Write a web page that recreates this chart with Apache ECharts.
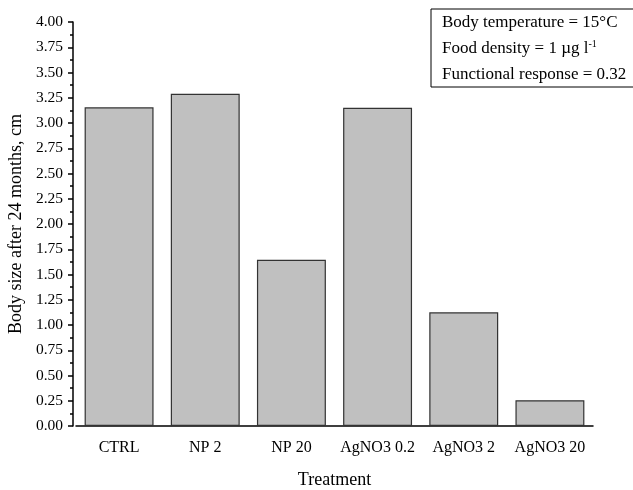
<!DOCTYPE html>
<html>
<head>
<meta charset="utf-8">
<script src="https://cdn.jsdelivr.net/npm/echarts@6/dist/echarts.min.js"></script>
<style>
    html, body { margin: 0; padding: 0; background: #fff; }
    #chart { width: 633px; height: 490px; }
</style>
</head>
<body>
<div id="chart"></div>
<script>
// data
const treatments = ['CTRL', 'NP 2', 'NP 20', 'AgNO3 0.2', 'AgNO3 2', 'AgNO3 20'];
const bodySize = [3.155, 3.29, 1.645, 3.15, 1.125, 0.255];
const infoLines = ['Body temperature = 15\u00b0C', 'Food density = 1 \u00b5g l{sup|-1}', 'Functional response = 0.32'];

const serif = 'Liberation Serif';
const chart = echarts.init(document.getElementById('chart'));

const option = {
    animation: false,
    textStyle: { fontFamily: serif, color: '#000' },
    grid: { left: 76, right: 40, top: 22, bottom: 64, outerBoundsMode: 'none', containLabel: false },
    xAxis: {
        type: 'category',
        data: treatments,
        name: 'Treatment',
        nameLocation: 'middle',
        nameGap: 45,
        nameTextStyle: { fontFamily: serif, fontSize: 18, color: '#000' },
        axisLine: { lineStyle: { color: '#000', width: 1.5 } },
        axisTick: { alignWithLabel: true, interval: 0, length: 7, lineStyle: { color: '#000', width: 1.5 } },
        axisLabel: { interval: 0, fontFamily: serif, fontSize: 16, color: '#000', margin: 14 }
    },
    yAxis: {
        type: 'value',
        min: 0,
        max: 4,
        interval: 0.25,
        offset: 3,
        name: 'Body size after 24 months, cm',
        nameLocation: 'middle',
        nameGap: 44,
        nameTextStyle: { fontFamily: serif, fontSize: 18, color: '#000' },
        axisLine: { show: true, lineStyle: { color: '#000', width: 1.5 } },
        axisTick: { show: true, length: 5, lineStyle: { color: '#000', width: 1.5 } },
        minorTick: { show: true, splitNumber: 2, length: 3, lineStyle: { color: '#000', width: 1.5 } },
        splitLine: { show: false },
        axisLabel: {
            fontFamily: serif, fontSize: 15.5, color: '#000', margin: 10,
            formatter: v => v.toFixed(2)
        }
    },
    series: [{
        type: 'bar',
        data: bodySize,
        barCategoryGap: '20%',
        itemStyle: { color: '#c0c0c0', borderColor: '#333', borderWidth: 1.2 }
    }],
    graphic: [
        {
            type: 'rect',
            shape: { x: 431, y: 9, width: 210, height: 78 },
            style: { fill: '#fff', stroke: '#000', lineWidth: 1 },
            z: 10
        },
        {
            type: 'text',
            left: 442,
            top: 10,
            z: 11,
            style: {
                text: infoLines.join('\n'),
                fontFamily: serif,
                fontSize: 17,
                lineHeight: 26,
                fill: '#000',
                rich: {
                    sup: { fontFamily: serif, fontSize: 10, lineHeight: 26, padding: [0, 0, 10, 0] }
                }
            }
        }
    ]
};

chart.setOption(option);
</script>
</body>
</html>
